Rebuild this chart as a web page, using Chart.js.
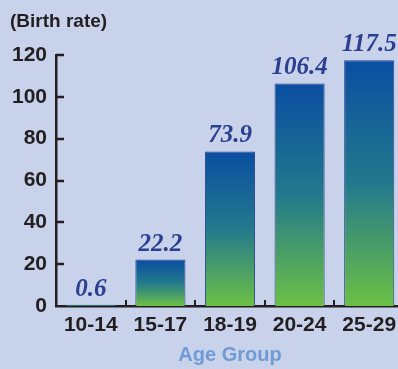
<!DOCTYPE html>
<html>
<head>
<meta charset="utf-8">
<script src="https://cdn.jsdelivr.net/npm/chart.js@4/dist/chart.umd.min.js"></script>
<style>
  html, body { margin: 0; padding: 0; background: #c8d2ea; overflow: hidden; }
  #wrap { width: 404px; height: 369px; position: relative; }
</style>
</head>
<body>
<div id="wrap"><canvas id="c" width="404" height="369"></canvas></div>
<script>
// Birth rate by age group
const ageGroups = ['10-14', '15-17', '18-19', '20-24', '25-29'];
const birthRates = [0.6, 22.2, 73.9, 106.4, 117.5];
const yTicks = [0, 20, 40, 60, 80, 100, 120];

const INK = '#231f20';
const SANS = '"Liberation Sans", Arial, Helvetica, sans-serif';
const SERIF = '"Liberation Serif", "Times New Roman", serif';

// vertical blue-to-green fill for each bar, from its top down to the baseline
function barFill(ctx) {
  const chart = ctx.chart;
  const y = chart.scales && chart.scales.y;
  if (!y || !chart.chartArea || ctx.parsed === undefined) return '#1f6f8f';
  const top = y.getPixelForValue(ctx.parsed.y);
  const base = y.getPixelForValue(0);
  if (!isFinite(top) || Math.abs(base - top) < 1) return '#2b4a8e';
  const g = chart.ctx.createLinearGradient(0, top, 0, base);
  g.addColorStop(0, '#0a4ea2');
  g.addColorStop(0.5, '#23798c');
  g.addColorStop(1, '#6cc045');
  return g;
}

// short tick marks pointing into the plot area
const innerTicks = {
  id: 'innerTicks',
  afterDraw(chart) {
    const { ctx, scales: { x, y } } = chart;
    ctx.save();
    ctx.strokeStyle = INK;
    ctx.lineWidth = 2.5;
    yTicks.forEach(v => {
      if (v === 0) return;
      const py = Math.round(y.getPixelForValue(v));
      ctx.beginPath();
      ctx.moveTo(x.left, py);
      ctx.lineTo(x.left + 8, py);
      ctx.stroke();
    });
    ctx.lineWidth = 2;
    for (let i = 1; i < ageGroups.length; i++) {
      const px = Math.round((x.getPixelForValue(i - 1) + x.getPixelForValue(i)) / 2);
      ctx.beginPath();
      ctx.moveTo(px, y.bottom);
      ctx.lineTo(px, y.bottom - 6);
      ctx.stroke();
    }
    ctx.restore();
  }
};

// value printed above each bar
const valueLabels = {
  id: 'valueLabels',
  afterDatasetsDraw(chart) {
    const { ctx } = chart;
    const meta = chart.getDatasetMeta(0);
    ctx.save();
    ctx.font = 'italic bold 25px ' + SERIF;
    ctx.fillStyle = '#2a3f8f';
    ctx.textAlign = 'center';
    ctx.textBaseline = 'alphabetic';
    meta.data.forEach((bar, i) => {
      ctx.fillText(String(birthRates[i]), bar.x, bar.y - 9);
    });
    ctx.restore();
  }
};

// unit caption at top left
const unitCaption = {
  id: 'unitCaption',
  afterDraw(chart) {
    const { ctx } = chart;
    ctx.save();
    ctx.font = 'bold 19px ' + SANS;
    ctx.fillStyle = INK;
    ctx.textAlign = 'left';
    ctx.textBaseline = 'alphabetic';
    ctx.fillText('(Birth rate)', 10, 27);
    ctx.restore();
  }
};

new Chart(document.getElementById('c'), {
  type: 'bar',
  data: {
    labels: ageGroups,
    datasets: [{
      data: birthRates,
      backgroundColor: barFill,
      borderColor: '#2b4a8e',
      borderWidth: 1,
      categoryPercentage: 1,
      barPercentage: 0.72
    }]
  },
  options: {
    responsive: false,
    animation: false,
    devicePixelRatio: 1,
    layout: { padding: { top: 55, left: 0, right: 0, bottom: 0 } },
    plugins: {
      legend: { display: false },
      tooltip: { enabled: false },
      title: { display: false }
    },
    scales: {
      x: {
        grid: { display: false, drawTicks: false },
        border: { display: true, color: INK, width: 2.5 },
        ticks: {
          color: INK,
          padding: 7,
          font: { family: SANS, size: 21, weight: 'bold' },
          maxRotation: 0
        },
        title: {
          display: true,
          text: 'Age Group',
          color: '#6e9bd5',
          font: { family: SANS, size: 20, weight: 'bold' },
          padding: { top: 0, bottom: 2 }
        },
        afterFit(scale) { scale.height = 63; }
      },
      y: {
        min: 0,
        max: 120,
        afterBuildTicks(scale) { scale.ticks = yTicks.map(v => ({ value: v })); },
        grid: { display: false, drawTicks: false },
        border: { display: true, color: INK, width: 2.5 },
        ticks: {
          color: INK,
          padding: 9,
          font: { family: SANS, size: 21, weight: 'bold' }
        },
        afterFit(scale) { scale.width = 56; }
      }
    }
  },
  plugins: [innerTicks, valueLabels, unitCaption]
});
</script>
</body>
</html>
